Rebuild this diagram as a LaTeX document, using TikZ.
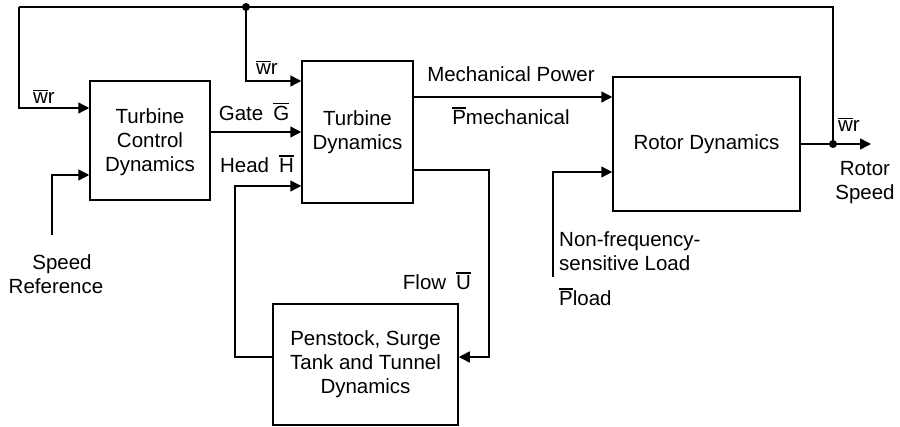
\documentclass[tikz,border=0pt]{standalone}
\usepackage{fontspec}
\setmainfont{Liberation Sans}
\usetikzlibrary{arrows.meta}
\newcommand\ovb[1]{\leavevmode\vbox{\hrule height 1.3pt\kern 1.8pt\hbox{#1}}}
\begin{document}
\begin{tikzpicture}[x=1pt,y=-1pt,
  every node/.style={font=\fontsize{20.5}{24}\selectfont, inner sep=0pt},
  blk/.style={draw, line width=1.5pt, align=center},
  wire/.style={line width=1.5pt},
  arr/.style={line width=1.5pt, -{Triangle[length=11pt,width=11pt]}},
  lbl/.style={align=center},
  jdot/.style={circle, fill=black, minimum size=8pt, inner sep=0pt}]
\useasboundingbox (0,0) rectangle (900,427);
% blocks
\node[blk, minimum width=120pt, minimum height=119pt] (tcd) at (150,140.5) {\\[-6pt]Turbine\\Control\\Dynamics};
\node[blk, minimum width=111pt, minimum height=142pt] (td) at (357.5,132) {Turbine\\Dynamics};
\node[blk, minimum width=187pt, minimum height=134pt] (rd) at (706.5,144) {Rotor Dynamics};
\node[blk, minimum width=185pt, minimum height=121pt] (pst) at (365.5,364.5) {Penstock, Surge\\Tank and Tunnel\\Dynamics};
% junctions
\node[jdot] (j1) at (246,7) {};
\node[jdot] (j2) at (833,144) {};
\coordinate (c1) at (833,7);
\coordinate (c2) at (19,7);
\coordinate (c3) at (19,108);
\coordinate (c4) at (246,81);
\coordinate (out) at (871,144);
\coordinate (sr) at (52,235);
\coordinate (sr2) at (52,175);
\coordinate (h1) at (235,357);
\coordinate (h2) at (235,186);
\coordinate (f0) at (413,170);
\coordinate (f1) at (489,170);
\coordinate (f2) at (489,357);
\coordinate (pl) at (553,277);
\coordinate (pl2) at (553,172);
% connectors
\draw[wire] (rd.east) -- (j2.center);
\draw[arr] (j2.center) -- (out);
\draw[wire] (j2.center) -- (c1) -- (c2);
\draw[arr] (c2) -- (c3) -- (tcd.west |- c3);
\draw[arr] (j1.center) -- (c4) -- (td.west |- c4);
\draw[arr] (sr) -- (sr2) -- (tcd.west |- sr2);
\draw[arr] (tcd.east |- 0,132) -- (td.west |- 0,132);
\draw[arr] (pst.west |- h1) -- (h1) -- (h2) -- (td.west |- h2);
\draw[arr] (td.east |- 0,97) -- (rd.west |- 0,97);
\draw[arr] (f0) -- (f1) -- (f2) -- (pst.east |- f2);
\draw[arr] (pl) -- (pl2) -- (rd.west |- pl2);
% labels
\node[lbl] (lw1) at (44,97) {\ovb{w}r};
\node[lbl] (lw2) at (267,68) {\ovb{w}r};
\node[lbl] (lg) at (254,112) {Gate\hspace{10pt}\ovb{G}};
\node[lbl] (lh) at (257,164) {Head\hspace{10pt}\ovb{H}};
\node[lbl] (lmp) at (511,74) {Mechanical Power};
\node[lbl] (lpm) at (511,116) {\ovb{P}mechanical};
\node[lbl] (lw3) at (849,125) {\ovb{w}r};
\node[lbl] (lrs) at (865,183) {Rotor\\Speed};
\node[lbl, anchor=west, align=left] (lnf) at (559,251) {Non-frequency-\\sensitive Load};
\node[lbl, anchor=west] (lpl) at (559,297) {\ovb{P}load};
\node[lbl] (lf) at (437,281) {Flow\hspace{10pt}\ovb{U}};
\node[lbl] (lsr) at (56,274) {\hspace{12pt}Speed\\Reference};
\end{tikzpicture}
\end{document}
